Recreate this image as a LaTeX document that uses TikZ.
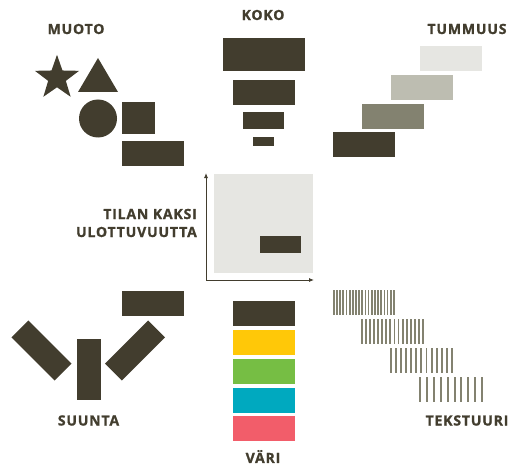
\documentclass[tikz,border=0pt]{standalone}
\usepackage{fontspec}
\setmainfont{Open Sans}
\newfontfamily\lblfont[LetterSpace=6,FakeBold=1.2]{Open Sans Bold}
\usetikzlibrary{arrows.meta}
\definecolor{dk}{HTML}{423D2E}
\definecolor{g1}{HTML}{E6E6E2}
\definecolor{g2}{HTML}{BDBDB1}
\definecolor{g3}{HTML}{838270}
\definecolor{cy}{HTML}{FFC808}
\definecolor{cg}{HTML}{76BE44}
\definecolor{ct}{HTML}{00A9BF}
\definecolor{cr}{HTML}{F25D6A}
\tikzset{
  lbl/.style={font=\fontsize{14}{18}\lblfont, text=dk, inner sep=0pt},
  blk/.style={fill=#1, inner sep=0pt, outer sep=0pt, draw=none},
  blk/.default=dk,
}
\newcommand{\bx}[6]{\node[blk=#6, minimum width=#4, minimum height=#5, anchor=north west] (#1) at (#2,#3) {};}
\begin{document}
\begin{tikzpicture}[x=1pt,y=-1pt]
\useasboundingbox (0,0) rectangle (518,465);
% MUOTO
\node[lbl] (muoto) at (76,29) {MUOTO};
\fill[dk] plot[samples at={0,...,9}, variable=\t] ({57+ifthenelse(isodd(\t),9.3,23.2)*cos(90+36*\t)}, {78-ifthenelse(isodd(\t),9.3,23.2)*sin(90+36*\t)}) -- cycle;
\fill[dk] (98,58) -- (118,92) -- (78,92) -- cycle;
\node[blk, circle, minimum size=38] (circ) at (98,118.5) {};
\bx{sq}{122}{102}{33}{32}{dk}
\bx{mr}{122}{141}{62}{25}{dk}
% KOKO
\node[lbl] (koko) at (263,15) {KOKO};
\bx{k1}{223}{38}{82}{33}{dk}
\bx{k2}{233}{80}{62}{25}{dk}
\bx{k3}{243}{112}{41}{17}{dk}
\bx{k4}{253}{137}{21}{9}{dk}
% TUMMUUS
\node[lbl] (tummuus) at (467,29) {TUMMUUS};
\bx{t1}{420}{46}{62}{25}{g1}
\bx{t2}{391}{75}{62}{25}{g2}
\bx{t3}{362}{104}{62}{25}{g3}
\bx{t4}{333}{132}{62}{25}{dk}
% centre
\bx{panel}{214}{174}{99}{99}{g1}
\bx{pr}{260}{236}{41}{17}{dk}
\coordinate (o) at (206,280);
\coordinate (ytip) at (206,173);
\coordinate (xtip) at (314,280);
\draw[dk, line width=0.8pt, -{Latex[length=5pt,width=4pt]}] (o) -- (ytip);
\draw[dk, line width=0.8pt, -{Latex[length=5pt,width=4pt]}] (o) -- (xtip);
\node[lbl, align=right, anchor=east] (tila) at (197,223) {TILAN KAKSI\\ULOTTUVUUTTA};
% SUUNTA
\bx{s0}{122}{291}{62}{25}{dk}
\node[blk, minimum width=24, minimum height=61] (s2) at (89,369.5) {};
\node[blk, minimum width=24, minimum height=61, rotate=45] (s1) at (41.5,350.5) {};
\node[blk, minimum width=24, minimum height=61, rotate=-45] (s3) at (135,350.5) {};
\node[lbl] (suunta) at (88.5,420.5) {SUUNTA};
% VARI
\bx{v1}{233}{301}{62}{25}{dk}
\bx{v2}{233}{330}{62}{25}{cy}
\bx{v3}{233}{359}{62}{25}{cg}
\bx{v4}{233}{388}{62}{25}{ct}
\bx{v5}{233}{416}{62}{25}{cr}
\node[lbl] (vari) at (263,456.5) {VÄRI};
% TEKSTUURI
\foreach \i in {0,...,19} \fill[g3] ({333+3.16*\i},290) rectangle ++(1.7,25);
\foreach \i in {0,...,15} \fill[g3] ({361+4.07*\i},319) rectangle ++(1.8,25);
\foreach \i in {0,...,12} \fill[g3] ({390+5.08*\i},348) rectangle ++(1.9,25);
\foreach \i in {0,...,9} \fill[g3] ({419+6.9*\i},377) rectangle ++(2,25);
\node[lbl] (tekstuuri) at (467,420.5) {TEKSTUURI};
\end{tikzpicture}
\end{document}
